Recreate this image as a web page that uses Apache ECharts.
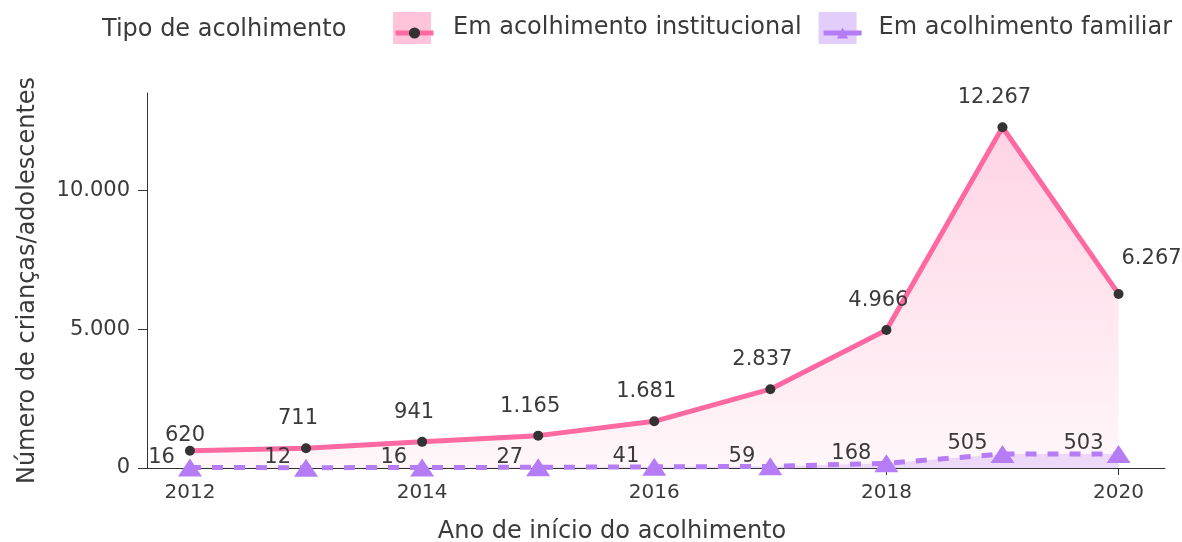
<!DOCTYPE html>
<html>
<head>
<meta charset="utf-8">
<script src="https://cdn.jsdelivr.net/npm/echarts@6/dist/echarts.min.js"></script>
<style>
  html, body { margin: 0; padding: 0; background: #fff; }
  #chart { width: 1182px; height: 542px; }
</style>
</head>
<body>
<div id="chart"></div>
<script>
const anos = [2012, 2013, 2014, 2015, 2016, 2017, 2018, 2019, 2020];
const institucional = [620, 711, 941, 1165, 1681, 2837, 4966, 12267, 6267];
const familiar = [16, 12, 16, 27, 41, 59, 168, 505, 503];
const anoTicks = [2012, 2014, 2016, 2018, 2020];
const valorTicks = [0, 5000, 10000];

const FONT = "DejaVu Sans";
const TXT = "#3a3a3a";
const PINK = "#ff69a1";
const PURPLE = "#b57cf6";

// 12267 -> "12.267"
function fmt(v) {
  return String(v).replace(/\B(?=(\d{3})+(?!\d))/g, ".");
}

const chart = echarts.init(document.getElementById("chart"));

const instData = anos.map((a, i) => [a, institucional[i]]);
const famData = anos.map((a, i) => [a, familiar[i]]);
// a couple of labels are nudged in the original to avoid collisions
instData[0] = { value: instData[0], label: { offset: [-5, 14] } };
instData[instData.length - 1] = {
  value: instData[instData.length - 1],
  label: { offset: [33, -6] },
};

const legendNames = ["Em acolhimento institucional", "Em acolhimento familiar"];

const option = {
  animation: false,
  title: {
    text: "Tipo de acolhimento",
    left: 97,
    top: 13,
    textStyle: { fontFamily: FONT, fontSize: 24, fontWeight: "normal", color: TXT },
  },
  legend: [
    {
      left: 388,
      top: 7,
      width: 820,
      itemWidth: 38,
      itemHeight: 32,
      itemGap: 17,
      icon: "rect",
      data: [
        { name: legendNames[0], itemStyle: { color: "#ffc4da" } },
        { name: legendNames[1], itemStyle: { color: "#e2cdfb" } },
      ],
      textStyle: { fontFamily: FONT, fontSize: 24, color: TXT, padding: [0, 0, 0, 17] },
    },
    {
      left: 388,
      top: 16,
      width: 820,
      itemWidth: 38,
      itemHeight: 14,
      itemGap: 17,
      selectedMode: false,
      data: [
        { name: legendNames[0], lineStyle: { type: "solid", width: 5 } },
        { name: legendNames[1], lineStyle: { type: "solid", width: 5 } },
      ],
      textStyle: { fontFamily: FONT, fontSize: 24, color: "transparent", padding: [0, 0, 0, 17] },
    },
  ],
  grid: { left: 147, right: 17, top: 93, bottom: 74, outerBoundsMode: "none" },
  xAxis: {
    type: "value",
    min: 2011.63,
    max: 2020.4,
    name: "Ano de início do acolhimento",
    nameLocation: "middle",
    nameGap: 52,
    nameTextStyle: { fontFamily: FONT, fontSize: 24, color: TXT, padding: [0, 88, 0, 0] },
    splitLine: { show: false },
    axisLine: { lineStyle: { color: "#333", width: 1 } },
    axisTick: { customValues: anoTicks, length: 7, lineStyle: { color: "#333" } },
    axisLabel: {
      customValues: anoTicks,
      formatter: (v) => String(v),
      margin: 15,
      fontFamily: FONT,
      fontSize: 20,
      color: TXT,
    },
  },
  yAxis: {
    type: "value",
    min: 0,
    max: 13500,
    name: "Número de crianças/adolescentes",
    nameLocation: "middle",
    nameGap: 107,
    nameTextStyle: { fontFamily: FONT, fontSize: 24, color: TXT },
    splitLine: { show: false },
    axisLine: { show: true, lineStyle: { color: "#333", width: 1 } },
    axisTick: { show: true, customValues: valorTicks, length: 9, lineStyle: { color: "#333" } },
    axisLabel: {
      customValues: valorTicks,
      formatter: fmt,
      margin: 17,
      fontFamily: FONT,
      fontSize: 21,
      color: TXT,
    },
  },
  series: [
    {
      name: legendNames[0],
      type: "line",
      data: instData,
      symbol: "circle",
      symbolSize: 10,
      itemStyle: { color: "#333" },
      lineStyle: { color: PINK, width: 5 },
      areaStyle: {
        color: new echarts.graphic.LinearGradient(0, 0, 0, 1, [
          { offset: 0, color: "rgba(255,105,161,0.42)" },
          { offset: 1, color: "rgba(255,105,161,0.08)" },
        ]),
      },
      label: {
        show: true,
        position: "top",
        distance: 14,
        offset: [-8, 0],
        formatter: (p) => fmt(p.value[1]),
        fontFamily: FONT,
        fontSize: 21,
        color: TXT,
      },
      z: 2,
    },
    {
      name: legendNames[1],
      type: "line",
      data: famData,
      symbol: "triangle",
      symbolSize: [24, 18],
      itemStyle: { color: PURPLE },
      lineStyle: { color: PURPLE, width: 5, type: [11, 11] },
      areaStyle: { color: "rgba(181,124,246,0.35)" },
      label: {
        show: true,
        position: "left",
        distance: 3,
        offset: [0, -10],
        formatter: (p) => fmt(p.value[1]),
        fontFamily: FONT,
        fontSize: 21,
        color: TXT,
      },
      z: 3,
    },
  ],
};

chart.setOption(option);
window.addEventListener("resize", () => chart.resize());
</script>
</body>
</html>
